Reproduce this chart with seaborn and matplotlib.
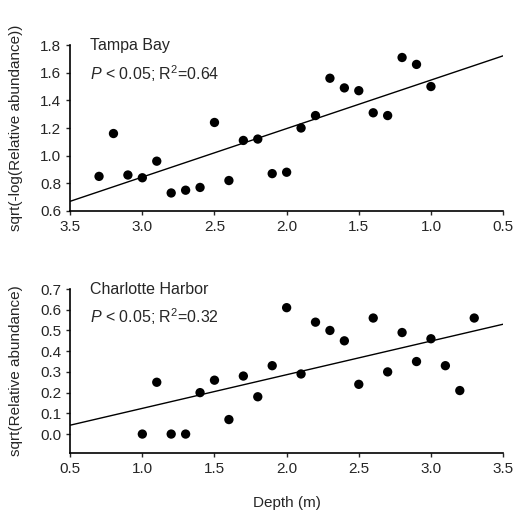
import numpy as np
import pandas as pd
import seaborn as sns
import matplotlib
matplotlib.use("Agg")
import matplotlib.pyplot as plt

# Tampa Bay data (depth vs transformed abundance)
tb_depth = [3.3, 3.2, 3.1, 3.0, 2.9, 2.8, 2.7, 2.6, 2.5, 2.4, 2.3, 2.2,
            2.1, 2.0, 1.9, 1.8, 1.7, 1.6, 1.5, 1.4, 1.3, 1.2, 1.1, 1.0]
tb_value = [0.85, 1.16, 0.86, 0.84, 0.96, 0.73, 0.75, 0.77, 1.24, 0.82, 1.11, 1.12,
            0.87, 0.88, 1.20, 1.29, 1.56, 1.49, 1.47, 1.31, 1.29, 1.71, 1.66, 1.50]

# Charlotte Harbor data
ch_depth = [1.0, 1.1, 1.2, 1.3, 1.4, 1.5, 1.6, 1.7, 1.8, 1.9, 2.0, 2.1,
            2.2, 2.3, 2.4, 2.5, 2.6, 2.7, 2.8, 2.9, 3.0, 3.1, 3.2, 3.3]
ch_value = [0.00, 0.25, 0.00, 0.00, 0.20, 0.26, 0.07, 0.28, 0.18, 0.33, 0.61, 0.29,
            0.54, 0.50, 0.45, 0.24, 0.56, 0.30, 0.49, 0.35, 0.46, 0.33, 0.21, 0.56]

tb = pd.DataFrame({"depth": tb_depth, "value": tb_value})
ch = pd.DataFrame({"depth": ch_depth, "value": ch_value})

sns.set_style("ticks")
plt.rcParams["font.family"] = ["Liberation Sans", "DejaVu Sans"]
plt.rcParams["mathtext.fontset"] = "custom"
plt.rcParams["mathtext.rm"] = "Liberation Sans"
plt.rcParams["mathtext.it"] = "Liberation Sans:italic"

fig = plt.figure(figsize=(5.16, 5.12), dpi=100)
ax1 = fig.add_axes([0.136, 0.588, 0.839, 0.324])
ax2 = fig.add_axes([0.136, 0.115, 0.839, 0.3205])

tick_fs = 11
label_fs = 11
dot = {"s": 45, "color": "black", "edgecolor": "none", "alpha": 1}
fit = {"color": "black", "lw": 1}

# --- Tampa Bay ---
ax1.set_xlim(3.5, 0.5)
ax1.set_ylim(0.6, 1.8)
sns.regplot(data=tb, x="depth", y="value", ax=ax1, ci=None, truncate=False,
            scatter_kws=dot, line_kws=fit)
ax1.set_xticks(np.arange(3.5, 0.4, -0.5))
ax1.set_yticks(np.arange(0.6, 1.81, 0.2))
ax1.set_xticklabels([f"{v:.1f}" for v in np.arange(3.5, 0.4, -0.5)])
ax1.set_yticklabels([f"{v:.1f}" for v in np.arange(0.6, 1.81, 0.2)])
ax1.set_xlabel("")
ax1.set_ylabel("sqrt(-log(Relative abundance))", fontsize=label_fs)
ax1.text(0.045, 1.0, "Tampa Bay", transform=ax1.transAxes, fontsize=11.5, va="center")
ax1.text(0.045, 0.83, r"$\mathit{P}$ < 0.05; R$^{2}$=0.64", transform=ax1.transAxes,
         fontsize=11.5, va="center")

# --- Charlotte Harbor ---
ax2.set_xlim(0.5, 3.5)
ax2.set_ylim(-0.092, 0.7)
sns.regplot(data=ch, x="depth", y="value", ax=ax2, ci=None, truncate=False,
            scatter_kws=dot, line_kws=fit)
ax2.set_xticks(np.arange(0.5, 3.51, 0.5))
ax2.set_yticks(np.arange(0.0, 0.71, 0.1))
ax2.set_xticklabels([f"{v:.1f}" for v in np.arange(0.5, 3.51, 0.5)])
ax2.set_yticklabels([f"{v:.1f}" for v in np.arange(0.0, 0.71, 0.1)])
ax2.set_xlabel("Depth (m)", fontsize=label_fs, labelpad=14)
ax2.set_ylabel("sqrt(Relative abundance)", fontsize=label_fs)
ax2.text(0.045, 1.0, "Charlotte Harbor", transform=ax2.transAxes, fontsize=11.5, va="center")
ax2.text(0.045, 0.83, r"$\mathit{P}$ < 0.05; R$^{2}$=0.32", transform=ax2.transAxes,
         fontsize=11.5, va="center")

for ax in (ax1, ax2):
    sns.despine(ax=ax)
    ax.tick_params(labelsize=tick_fs, length=3, width=1, direction="out")
    for s in ("left", "bottom"):
        ax.spines[s].set_linewidth(1.2)
        ax.spines[s].set_color("black")
    ax.yaxis.set_label_coords(-0.108, 0.5)

fig.savefig("out.png", dpi=100)
